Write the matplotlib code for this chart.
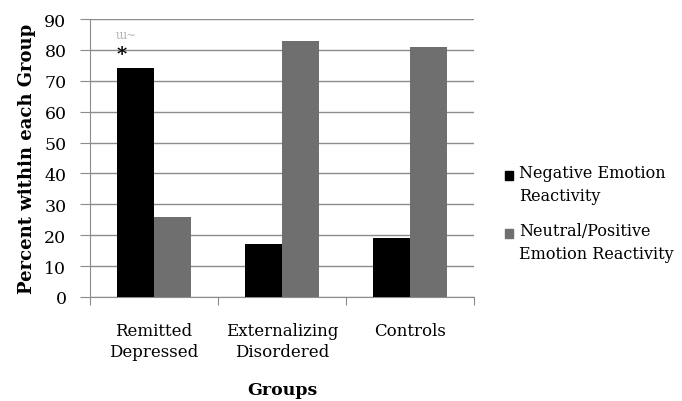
import numpy as np
import matplotlib.pyplot as plt
from matplotlib.patches import Rectangle

# Data
groups = ["Remitted\nDepressed", "Externalizing\nDisordered", "Controls"]
negative = [74, 17, 19]
neutral_positive = [26, 83, 81]
series_names = ["Negative Emotion\nReactivity", "Neutral/Positive\nEmotion Reactivity"]
series_colors = ["black", "#6f6f6f"]

plt.rcParams['font.family'] = ['DejaVu Serif']

fig = plt.figure(figsize=(6.82, 4.02), dpi=100)
ax = fig.add_axes([0.132, 0.259, 0.563, 0.691])

x = np.arange(len(groups))
w = 0.29
ax.bar(x - w / 2, negative, w, color=series_colors[0], zorder=3)
ax.bar(x + w / 2, neutral_positive, w, color=series_colors[1], zorder=3)

# Significance marker (plus the faint artefact above it)
ax.text(x[0] - 0.25, negative[0] + 4.8, "*", ha="center", va="center",
        fontsize=14, fontweight="bold", zorder=4)
ax.text(x[0] - 0.22, negative[0] + 11, "ɯ~", ha="center", va="center",
        fontsize=8.5, color="#b0b0b0", zorder=4)

ax.set_xlim(-0.5, len(groups) - 0.5)
ax.set_ylim(0, 90)
ax.set_yticks(range(0, 91, 10))
ax.yaxis.grid(True, color="#8c8c8c", linewidth=1)
ax.set_axisbelow(True)

ax.set_xticks(np.arange(-0.5, len(groups), 1))
ax.set_xticklabels([])
ax.set_xticks(x, minor=True)
ax.set_xticklabels(groups, minor=True, fontsize=12, linespacing=1.3)
ax.tick_params(axis="x", which="minor", length=0, pad=18)
ax.tick_params(axis="x", which="major", length=6, color="#8c8c8c", direction="out")
ax.tick_params(axis="y", length=7, color="#8c8c8c", labelsize=12.5, pad=10)

for s in ["top", "right"]:
    ax.spines[s].set_visible(False)
for s in ["left", "bottom"]:
    ax.spines[s].set_color("#8c8c8c")

ax.set_ylabel("Percent within each Group", fontsize=13, fontweight="bold", labelpad=6)
ax.set_xlabel("Groups", fontsize=12.5, fontweight="bold", labelpad=15)

# Legend built by hand so the square lines up with the first text line
legend_tops = [0.572, 0.428]
for top, name, color in zip(legend_tops, series_names, series_colors):
    fig.patches.append(Rectangle((0.741, top - 0.001), 0.0115, -0.021, color=color,
                                 transform=fig.transFigure, figure=fig))
    fig.text(0.761, top + 0.018, name, ha="left", va="top", fontsize=11.5,
             linespacing=1.45)

fig.savefig("out.png", dpi=100)
